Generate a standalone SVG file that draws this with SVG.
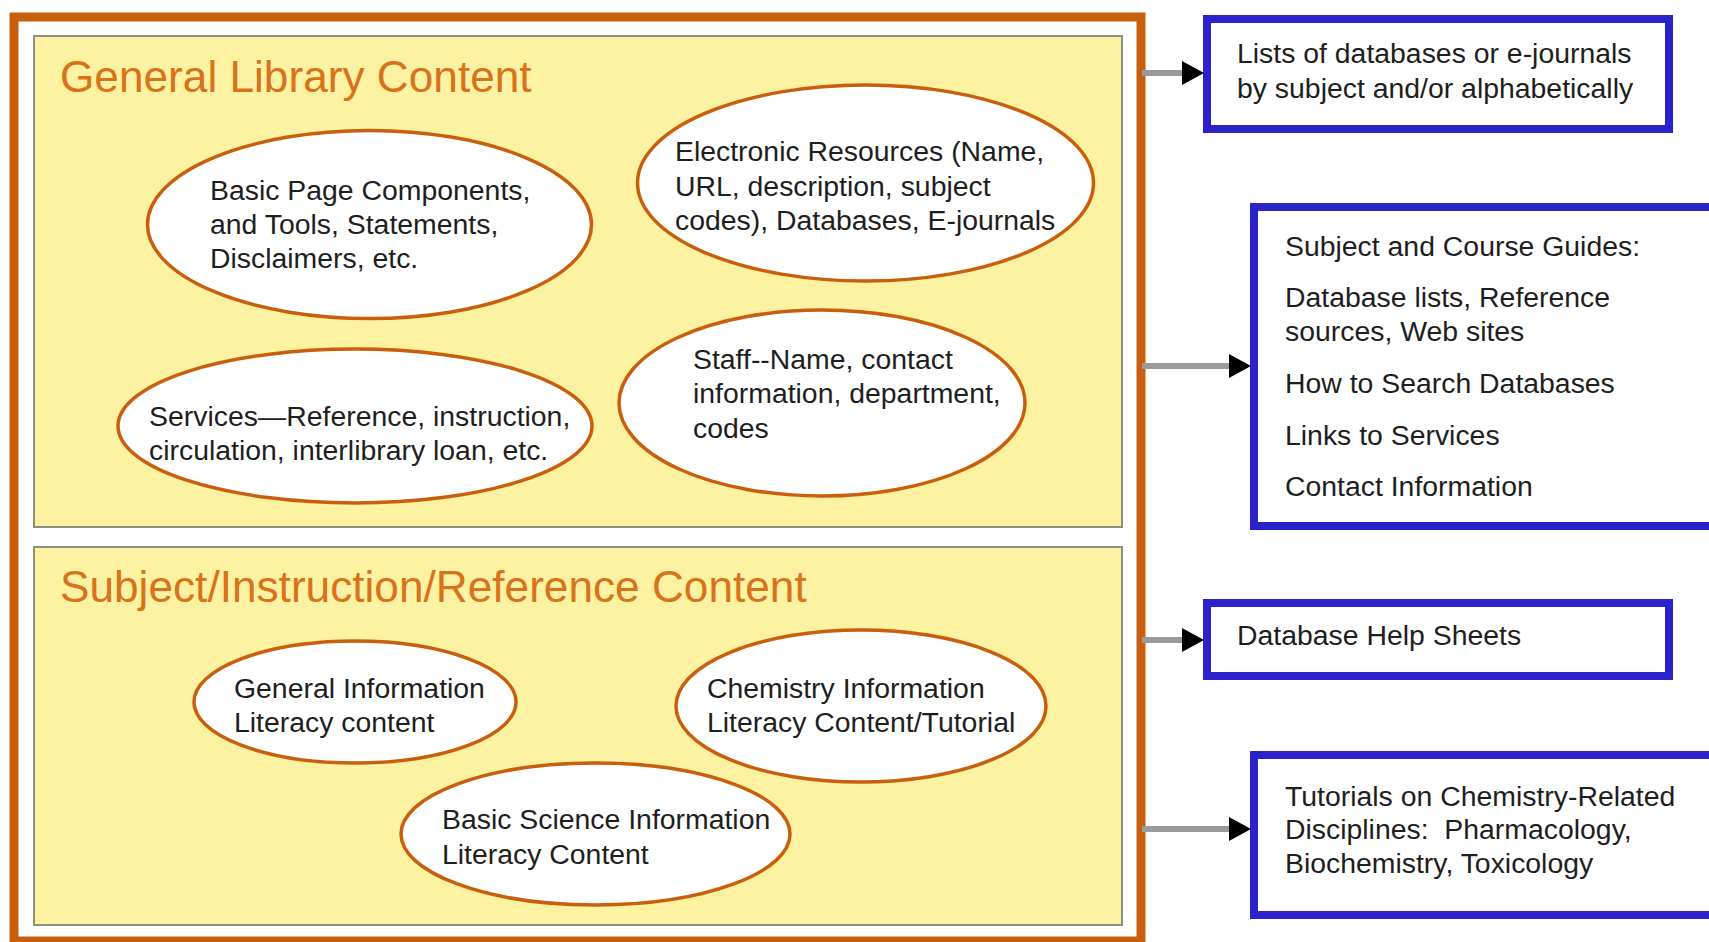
<svg xmlns="http://www.w3.org/2000/svg" width="1709" height="942" viewBox="0 0 1709 942">
<style>
  .frame{fill:none;stroke:#C95F0C;stroke-width:9}
  .panel{fill:#FCF2A2;stroke:#8f8f80;stroke-width:2}
  .title{font-family:"Liberation Sans",Arial,sans-serif;font-size:44.2px;fill:#D8731A}
  .ell{fill:#ffffff;stroke:#C95F0C;stroke-width:3.5}
  .t{font-family:"Liberation Sans",Arial,sans-serif;font-size:28.4px;fill:#1e1e1e}
  .box{fill:#ffffff;stroke:#2B22CC;stroke-width:8}
  .conn{stroke:#9a9a9a;stroke-width:6;fill:none}
</style>
<defs>
  <marker id="ah" viewBox="0 0 22 24" refX="0" refY="12" markerWidth="22" markerHeight="24" markerUnits="userSpaceOnUse" orient="auto">
    <path d="M0,0 L22,12 L0,24 Z" fill="#000"/>
  </marker>
</defs>
<rect width="1709" height="942" fill="#ffffff"/>

<g id="frame">
  <rect class="frame" x="14" y="17" width="1127" height="924"/>
</g>

<g id="general-library">
  <rect class="panel" x="34" y="36" width="1088" height="491"/>
  <text class="title" x="60" y="92">General Library Content</text>
</g>

<g id="subject-instruction">
  <rect class="panel" x="34" y="547" width="1088" height="378"/>
  <text class="title" x="60" y="602">Subject/Instruction/Reference Content</text>
</g>

<g id="basic-page">
  <ellipse class="ell" cx="369.5" cy="224.5" rx="222" ry="94"/>
  <text class="t"><tspan x="210" y="200">Basic Page Components,</tspan><tspan x="210" y="234">and Tools, Statements,</tspan><tspan x="210" y="268">Disclaimers, etc.</tspan></text>
</g>

<g id="electronic-resources">
  <ellipse class="ell" cx="865.5" cy="183" rx="228" ry="98"/>
  <text class="t"><tspan x="675" y="161">Electronic Resources (Name,</tspan><tspan x="675" y="196">URL, description, subject</tspan><tspan x="675" y="230">codes), Databases, E-journals</tspan></text>
</g>

<g id="services">
  <ellipse class="ell" cx="355" cy="426" rx="237" ry="77"/>
  <text class="t"><tspan x="149" y="426">Services—Reference, instruction,</tspan><tspan x="149" y="460">circulation, interlibrary loan, etc.</tspan></text>
</g>

<g id="staff">
  <ellipse class="ell" cx="822" cy="403" rx="203" ry="93"/>
  <text class="t"><tspan x="693" y="369">Staff--Name, contact</tspan><tspan x="693" y="403">information, department,</tspan><tspan x="693" y="438">codes</tspan></text>
</g>

<g id="general-info-literacy">
  <ellipse class="ell" cx="355" cy="702" rx="161" ry="61"/>
  <text class="t"><tspan x="234" y="698">General Information</tspan><tspan x="234" y="732">Literacy content</tspan></text>
</g>

<g id="chemistry-info-literacy">
  <ellipse class="ell" cx="861" cy="706" rx="185" ry="76"/>
  <text class="t"><tspan x="707" y="698">Chemistry Information</tspan><tspan x="707" y="732">Literacy Content/Tutorial</tspan></text>
</g>

<g id="basic-science-literacy">
  <ellipse class="ell" cx="595.5" cy="834" rx="194.5" ry="71"/>
  <text class="t"><tspan x="442" y="829">Basic Science Information</tspan><tspan x="442" y="864">Literacy Content</tspan></text>
</g>

<g id="lists-box">
  <rect class="box" x="1207" y="19" width="462" height="110"/>
  <text class="t"><tspan x="1237" y="63">Lists of databases or e-journals</tspan><tspan x="1237" y="98">by subject and/or alphabetically</tspan></text>
</g>

<g id="guides-box">
  <rect class="box" x="1254" y="207" width="470" height="319"/>
  <text class="t"><tspan x="1285" y="256">Subject and Course Guides:</tspan><tspan x="1285" y="307">Database lists, Reference</tspan><tspan x="1285" y="341">sources, Web sites</tspan><tspan x="1285" y="393">How to Search Databases</tspan><tspan x="1285" y="445">Links to Services</tspan><tspan x="1285" y="496">Contact Information</tspan></text>
</g>

<g id="help-box">
  <rect class="box" x="1207" y="603" width="462" height="73"/>
  <text class="t" x="1237" y="645">Database Help Sheets</text>
</g>

<g id="tutorials-box">
  <rect class="box" x="1254" y="755" width="470" height="160"/>
  <text class="t"><tspan x="1285" y="806">Tutorials on Chemistry-Related</tspan><tspan x="1285" y="839" xml:space="preserve">Disciplines:  Pharmacology,</tspan><tspan x="1285" y="873">Biochemistry, Toxicology</tspan></text>
</g>

<g id="connectors">
  <line class="conn" x1="1142" y1="73" x2="1182" y2="73" marker-end="url(#ah)"/>
  <line class="conn" x1="1142" y1="366" x2="1229" y2="366" marker-end="url(#ah)"/>
  <line class="conn" x1="1142" y1="640" x2="1182" y2="640" marker-end="url(#ah)"/>
  <line class="conn" x1="1142" y1="829" x2="1229" y2="829" marker-end="url(#ah)"/>
</g>
</svg>
